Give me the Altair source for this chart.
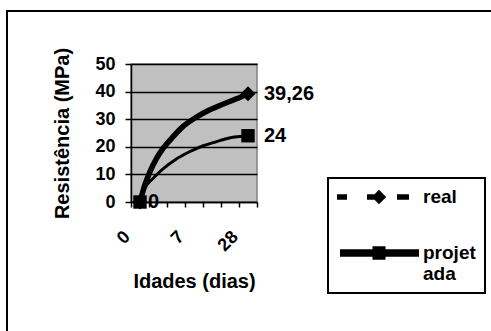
import altair as alt
import pandas as pd

# ---- data ----
series_names = ["real", "projetada"]
n_slots = 7                       # category slots along x
label_slots = [1, 4, 7]           # slots that carry a tick label
label_texts = ["0", "7", "28"]    # Idades (dias)

# smoothed curves (x in category-slot units)
real_x = [1.0, 1.27, 1.55, 1.92, 2.28, 2.83, 3.38, 4.12, 4.85, 5.59, 6.32, 7.0]
real_y = [0, 6.2, 10.9, 15.8, 19.4, 23.6, 27.3, 30.7, 33.3, 35.4, 37.3, 39.26]
proj_x = [1.0, 1.27, 1.73, 2.28, 3.02, 3.75, 4.48, 5.22, 5.96, 7.0]
proj_y = [0, 5.0, 8.6, 12.0, 15.6, 18.2, 20.3, 21.8, 23.2, 24]

# marked points
marker_x = [1, 7]
real_marks = [0, 39.26]
proj_marks = [0, 24]

y_ticks = [0, 10, 20, 30, 40, 50]

FONT = "Liberation Sans"

curves = pd.DataFrame(
    {"x": real_x + proj_x,
     "v": real_y + proj_y,
     "serie": ["real"] * len(real_x) + ["projetada"] * len(proj_x)}
)
real_pts = pd.DataFrame({"x": marker_x, "v": real_marks, "serie": "real"})
proj_pts = pd.DataFrame({"x": marker_x, "v": proj_marks, "serie": "projetada"})
end_lbl = pd.DataFrame(
    {"x": [marker_x[-1], marker_x[-1]],
     "v": [real_marks[-1], proj_marks[-1]],
     "txt": [f"{real_marks[-1]:g}".replace(".", ","), f"{proj_marks[-1]:g}"]}
)
start_lbl = pd.DataFrame({"x": [marker_x[0]], "v": [proj_marks[0]], "txt": [f"{proj_marks[0]:g}"]})
legend_pts = pd.concat([real_pts, proj_pts])

boundaries = [i + 0.5 for i in range(n_slots + 1)]
label_expr = "".join(
    f"datum.value == {s - 0.5} ? '{t}' : " for s, t in zip(label_slots, label_texts)
) + "''"

xscale = alt.Scale(domain=[0.5, n_slots + 0.5], nice=False, zero=False)
yscale = alt.Scale(domain=[0, 50], nice=False)

X = alt.X(
    "x:Q", scale=xscale,
    axis=alt.Axis(values=boundaries, labelExpr=label_expr, labelAngle=-45,
                  labelAlign="right", labelBaseline="middle", labelPadding=27,
                  labelOffset=-4,
                  tickSize=5, grid=False, title="Idades (dias)", titlePadding=17,
                  labelFontSize=18, labelOverlap=False),
)
Y = alt.Y(
    "v:Q", scale=yscale,
    axis=alt.Axis(values=y_ticks, grid=True, gridColor="black", gridWidth=1.6,
                  tickSize=6, labelPadding=10, title="Resistência (MPa)",
                  titlePadding=22, labelFontSize=18),
)

base = alt.Chart(curves)

line_real = base.transform_filter(alt.datum.serie == "real").mark_line(
    color="black", strokeWidth=5.5, interpolate="monotone"
).encode(x=X, y=Y)
line_proj = base.transform_filter(alt.datum.serie == "projetada").mark_line(
    color="black", strokeWidth=3, interpolate="monotone"
).encode(x=X, y=Y)

dia = alt.Chart(real_pts).mark_point(
    shape="diamond", filled=True, color="black", size=225, opacity=1
).encode(x=X, y=Y)
sq = alt.Chart(proj_pts).mark_point(
    shape="square", filled=True, color="black", size=180, opacity=1
).encode(x=X, y=Y)

txt_end = alt.Chart(end_lbl).mark_text(
    align="left", baseline="middle", dx=16, font=FONT, fontSize=20,
    fontWeight="bold", color="black"
).encode(x=X, y=Y, text="txt:N")
txt_start = alt.Chart(start_lbl).mark_text(
    align="left", baseline="middle", dx=8, font=FONT, fontSize=20,
    fontWeight="bold", color="black"
).encode(x=X, y=Y, text="txt:N")

# legend symbols: line + marker drawn as custom paths
real_path = ("M-4.2,-0.28H-3.2V0.28H-4.2Z M-1.2,-0.28H-0.4V0.28H-1.2Z "
             "M0,-0.72L0.72,0L0,0.72L-0.72,0Z M1.8,-0.28H3V0.28H1.8Z")
proj_path = "M-3.9,-0.38H4V0.38H-3.9Z M-0.65,-0.68H0.65V0.68H-0.65Z"

leg = alt.Chart(legend_pts).mark_point(filled=True, color="black", opacity=0).encode(
    x=X, y=Y,
    shape=alt.Shape(
        "serie:N",
        scale=alt.Scale(domain=series_names, range=[real_path, proj_path]),
        legend=alt.Legend(
            title=None, orient="none", legendX=197, legendY=114,
            symbolSize=400, symbolOpacity=1, symbolFillColor="black",
            symbolStrokeWidth=0, symbolOffset=32, labelOffset=34, rowPadding=36,
            labelFont=FONT, labelFontSize=19, labelFontWeight="bold",
            labelColor="black",
            labelExpr="datum.label == 'projetada' ? ['projet', 'ada'] : datum.label",
            strokeColor="black", fillColor="white", padding=9,
        ),
    ),
)

frame = alt.Chart(pd.DataFrame({"k": [0]})).mark_rect(
    fill=None, stroke="black", strokeWidth=2
).encode(
    x=alt.value(-124), x2=alt.value(372), y=alt.value(-53), y2=alt.value(280)
)

chart = alt.layer(
    frame, line_proj, line_real, dia, sq, txt_end, txt_start, leg
).properties(
    width=126, height=138,
    autosize=alt.AutoSizeParams(type="none"),
    padding={"left": 131, "top": 64, "right": 234, "bottom": 129},
    background="white",
).configure_view(
    fill="#C0C0C0", stroke="#808080", strokeWidth=1.5
).configure_axis(
    labelFont=FONT, labelFontWeight="bold", labelColor="black",
    titleFont=FONT, titleFontWeight="bold", titleColor="black", titleFontSize=20,
    domainColor="black", domainWidth=1.5, tickColor="black", tickWidth=1.5,
).configure_legend(strokeWidth=2)

chart.save("out.html", embed_options={"renderer": "svg", "actions": False})
